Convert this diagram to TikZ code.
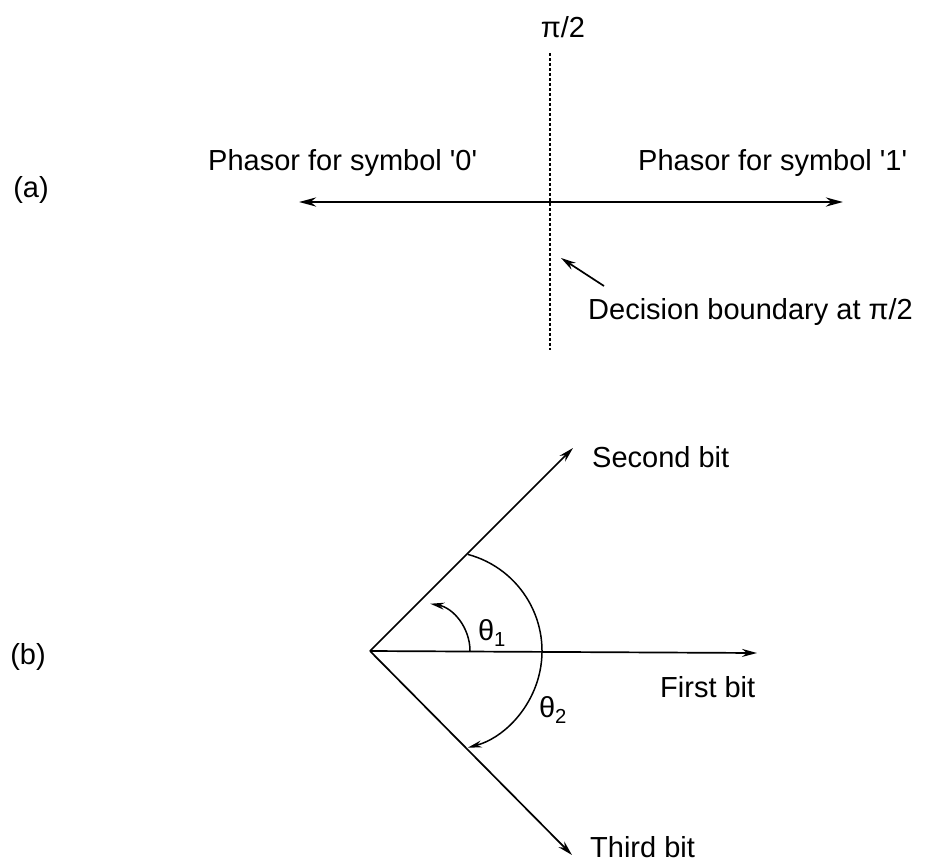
\documentclass[tikz,border=0pt]{standalone}
\usepackage{fontspec}
\setmainfont{Liberation Sans}
\usetikzlibrary{arrows.meta}
\begin{document}
\begin{tikzpicture}[x=1pt,y=-1pt,
  lab/.style={font=\fontsize{29}{34}\selectfont, inner sep=0pt},
  arr/.style={-{Stealth[length=15pt,width=8pt]}, line width=1.7pt},
  thickarr/.style={-{Stealth[length=17pt,width=9pt]}, line width=2.8pt},
  thin/.style={line width=1.5pt},
  boundary/.style={line width=1.3pt, dash pattern=on 3pt off 2pt}]
\useasboundingbox (0,0) rectangle (934,865);
% ---------- (a) ----------
\node[lab] (la) at (31,190) {(a)};
\node[lab] (pi) at (563,27) {π/2};
\coordinate (dtop) at (550,53);
\coordinate (dbot) at (550,350);
\draw[boundary] (dtop) -- (dbot);
\coordinate (oa) at (550,202);
\coordinate (t0) at (299,202);
\coordinate (t1) at (843,202);
\draw[thickarr] (oa) -- (t0);
\draw[thickarr] (oa) -- (t1);
\node[lab, anchor=west] (p0) at (208,163) {Phasor for symbol \textquotesingle 0\textquotesingle};
\node[lab, anchor=west] (p1) at (638,163) {Phasor for symbol \textquotesingle 1\textquotesingle};
\node[lab, anchor=west] (db) at (588,312) {Decision boundary at π/2};
\coordinate (dtail) at (604,286);
\coordinate (dtip) at (561,258);
\draw[arr] (dtail) -- (dtip);
% ---------- (b) ----------
\node[lab] (lb) at (28,657) {(b)};
\coordinate (o) at (370,651);
\coordinate (s2) at (573,448);
\coordinate (s1) at (757,653);
\coordinate (s3) at (572,855);
\draw[arr] (o) -- (s2);
\draw[arr] (o) -- (s1);
\draw[arr] (o) -- (s3);
\node[lab, anchor=west] (n2) at (592,457) {Second bit};
\node[lab, anchor=west] (n1) at (660,687) {First bit};
\node[lab, anchor=west] (n3) at (590,847) {Third bit};
% big arc theta2
\coordinate (bigc) at (442,651);
\draw[thin, -{Stealth[length=14pt,width=7pt]}] (bigc) ++(-75:100) arc[start angle=-75, end angle=75, radius=100];
% small arc theta1
\coordinate (smc) at (422,651);
\draw[thin, -{Stealth[length=14pt,width=7pt]}] (smc) ++(0:48) arc[start angle=0, end angle=-80, radius=48];
\node[lab] (th1) at (492,633) {θ\textsubscript{1}};
\node[lab] (th2) at (553,710) {θ\textsubscript{2}};
\end{tikzpicture}
\end{document}
